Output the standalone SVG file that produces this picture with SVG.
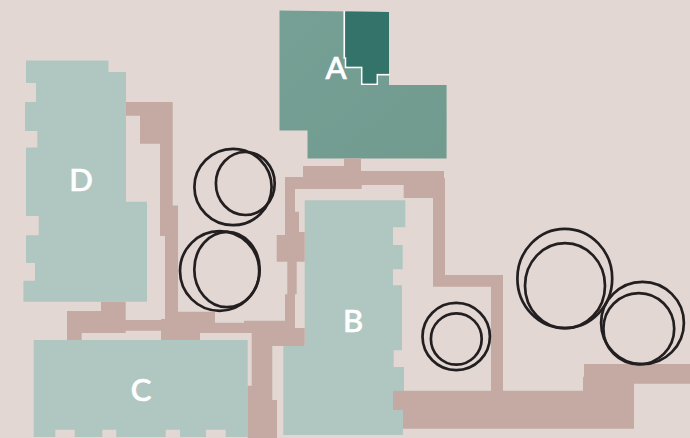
<svg xmlns="http://www.w3.org/2000/svg" width="690" height="438" viewBox="0 0 690 438">
<style>
.hall{fill:#b0c7c1}
.lbl{font-family:"Lato","Liberation Sans",sans-serif;font-size:31px;font-weight:500;fill:#fff;stroke:#fff;stroke-width:.7;text-anchor:middle}
.ring{fill:none;stroke:#231f20;stroke-width:2.7}
</style>
<defs><linearGradient id="ga" x1="0" y1="0" x2="1" y2="1"><stop offset="0" stop-color="#769f95"/><stop offset="1" stop-color="#729b90"/></linearGradient></defs>
<rect width="690" height="438" fill="#e2d7d3"/>
<g id="node-a">
<path fill="url(#ga)" d="M279.5 10.5L389 12V85H446.6V158.5H307.5V130.5H279.5Z"/>
<path fill="none" stroke="#fff" stroke-width="1.7" d="M344.3 11V58H345.6V67.4H361.8V84.2H377.2V74.6H389.5"/>
<path fill="#33736a" d="M345.2 11.5L389 12V73.8H376.4V83.4H362.6V66.6H346.4V57.2H345.2Z"/>
<text class="lbl" x="336" y="79">A</text>
</g>
<g id="node-b">
<path class="hall" d="M304.7 200.3H405.3V227.3H393V245H402.7V269.3H393V285.3H402V350.3H393.7V367H404V410H403V435H283.3V346H304.7Z"/>
<text class="lbl" x="353" y="332">B</text>
</g>
<g id="node-c">
<path class="hall" d="M33.7 340H247.7V437H225.7V429.7H206V437H180V429.7H165.7V437H116.3V429.7H102.3V437H74.7V429.7H55.3V437H33.7Z"/>
<text class="lbl" x="141" y="401">C</text>
</g>
<g id="node-d">
<path class="hall" d="M26 60.5H108.4V72H126V201.7H147V301.7H23.4V280.7H35V263H26V235.3H38.7V216H26V147.5H37.3V131H25V102H36V83H26Z"/>
<text class="lbl" x="81" y="191">D</text>
</g>
<g id="connectors">
<path fill="#c4aaa3" d="M126 102H172.7V205.5H178V311.7H215V322.7H244V320.7H285V294.3H287.3V261.7H276.7V235H285V177H303V166H344V158.5H361V171H444V178H445V275H503V390.7H583V376.7H584V364H690V383.7H634V428.7H403V410H393V390.7H491V286.7H433V198H403.7V185H361.7V189H295V211.7H299V232H304.7V261.7H296.7V294.3H295V328H304.7V346H272.3V400H277V438H247.7V385.7H251.7V333H200V340H161V330.7H125.7V333H81.7V340H67V311H101V301.7H125.7V320H161V319H165V236H160V143.7H140V115.7H126Z"/>
</g>
<g id="rings">
<g id="ring-1"><ellipse class="ring" cx="233" cy="187" rx="38.6" ry="38.2"/><ellipse class="ring" cx="245.3" cy="183.5" rx="29.4" ry="31.5"/></g>
<g id="ring-2"><ellipse class="ring" cx="219.6" cy="271" rx="39.6" ry="39.8"/><ellipse class="ring" cx="227" cy="269.5" rx="32.7" ry="37.7"/></g>
<g id="ring-3"><ellipse class="ring" cx="456.2" cy="336.5" rx="33.7" ry="33.7"/><ellipse class="ring" cx="456.3" cy="339" rx="25.4" ry="25.7"/></g>
<g id="ring-4"><ellipse class="ring" cx="564.8" cy="278.5" rx="47.4" ry="49.7"/><ellipse class="ring" cx="565" cy="285.7" rx="40" ry="42.5"/></g>
<g id="ring-5"><ellipse class="ring" cx="642.5" cy="323" rx="41.4" ry="41.2"/><ellipse class="ring" cx="638.8" cy="328.7" rx="35.4" ry="35.6"/></g>
</g>
</svg>
